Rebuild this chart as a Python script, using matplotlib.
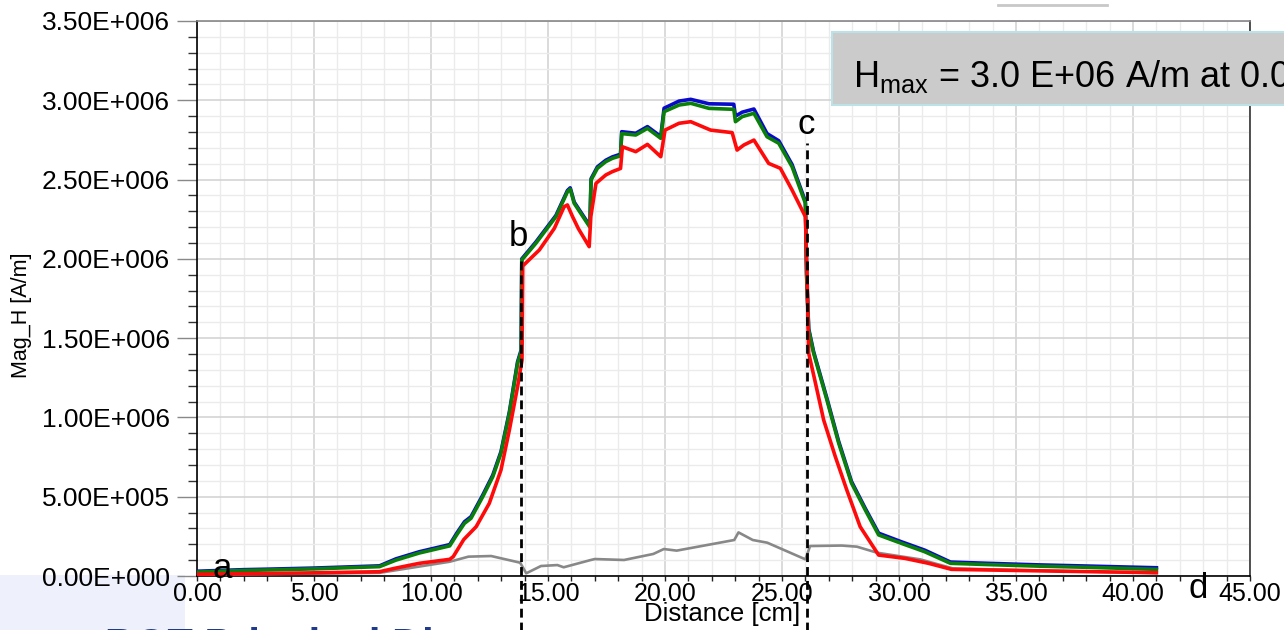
import numpy as np
import matplotlib
matplotlib.use('Agg')
import matplotlib.pyplot as plt
from matplotlib.patches import Rectangle
from matplotlib.lines import Line2D

plt.rcParams['font.family'] = ['Liberation Sans', 'DejaVu Sans']
plt.rcParams['mathtext.fontset'] = 'custom'
plt.rcParams['mathtext.rm'] = 'Liberation Sans'
plt.rcParams['mathtext.it'] = 'Liberation Sans'

# distance [cm] / Mag_H [A/m]
x_bg = [0.0, 1.0, 2.0, 3.0, 5.0, 7.8, 8.5, 9.5, 10.8, 11.1, 11.43, 11.71, 12.21, 12.64, 12.99,
        13.35, 13.70, 13.85, 13.88, 14.48, 15.34, 15.83, 15.95, 16.12, 16.79, 16.84, 17.11,
        17.47, 17.75, 18.1, 18.15, 18.75, 19.25, 19.82, 19.96, 20.6, 21.1, 21.88, 22.94,
        23.01, 23.3, 23.8, 24.36, 24.86, 25.43, 26.0, 26.05, 26.14, 26.35, 26.92, 27.42,
        27.97, 28.56, 29.13, 30.1, 31.1, 32.2, 33.8, 36.0, 38.0, 41.0]
blue = [30e3, 35e3, 40e3, 43e3, 50e3, 64e3, 108e3, 153e3, 198e3, 270e3, 342e3, 374e3, 510e3,
        636e3, 784e3, 1036e3, 1351e3, 1424e3, 2000e3, 2106e3, 2274e3, 2431e3, 2448e3, 2358e3,
        2208e3, 2505e3, 2580e3, 2622e3, 2643e3, 2660e3, 2802e3, 2792e3, 2834e3, 2772e3, 2950e3,
        2995e3, 3006e3, 2978e3, 2975e3, 2900e3, 2925e3, 2945e3, 2790e3, 2745e3, 2595e3, 2362e3,
        1910e3, 1560e3, 1415e3, 1120e3, 850e3, 596e3, 426e3, 270e3, 216e3, 163e3, 88e3, 80e3,
        70e3, 63e3, 52e3]
green = [25e3, 30e3, 35e3, 38e3, 45e3, 59e3, 100e3, 145e3, 190e3, 260e3, 332e3, 364e3, 500e3,
         626e3, 774e3, 1026e3, 1341e3, 1414e3, 1993e3, 2098e3, 2266e3, 2423e3, 2440e3, 2350e3,
         2200e3, 2497e3, 2571e3, 2613e3, 2634e3, 2650e3, 2790e3, 2781e3, 2823e3, 2760e3, 2928e3,
         2970e3, 2981e3, 2949e3, 2943e3, 2865e3, 2897e3, 2918e3, 2770e3, 2729e3, 2581e3, 2350e3,
         1900e3, 1551e3, 1406e3, 1110e3, 839e3, 586e3, 416e3, 259e3, 206e3, 153e3, 80e3, 72e3,
         62e3, 55e3, 42e3]

x_red = [0.0, 3.0, 5.0, 7.8, 8.5, 9.5, 10.8, 10.95, 11.4, 11.93, 12.49, 12.99, 13.35, 13.70,
         13.89, 13.92, 14.63, 15.27, 15.69, 15.83, 16.05, 16.3, 16.76, 16.83, 17.05, 17.47,
         17.75, 18.1, 18.18, 18.75, 19.25, 19.82, 20.0, 20.6, 21.1, 21.95, 22.87, 23.08, 23.37,
         23.8, 24.43, 24.93, 25.43, 26.0, 26.07, 26.14, 26.4, 26.78, 27.28, 27.77, 28.34, 29.13,
         30.26, 31.26, 32.24, 33.8, 37.0, 41.0]
red = [11e3, 16e3, 20e3, 27e3, 50e3, 80e3, 105e3, 122e3, 230e3, 311e3, 458e3, 668e3, 921e3,
       1194e3, 1362e3, 1955e3, 2056e3, 2192e3, 2329e3, 2340e3, 2266e3, 2190e3, 2077e3, 2266e3,
       2476e3, 2529e3, 2550e3, 2570e3, 2707e3, 2676e3, 2722e3, 2644e3, 2812e3, 2855e3, 2865e3,
       2812e3, 2796e3, 2686e3, 2718e3, 2749e3, 2602e3, 2571e3, 2434e3, 2266e3, 1900e3, 1406e3,
       1236e3, 984e3, 752e3, 542e3, 311e3, 132e3, 111e3, 80e3, 42e3, 38e3, 30e3, 21e3]

x_gray = [0.0, 5.0, 7.8, 10.8, 11.6, 12.57, 13.81, 14.07, 14.7, 15.4, 15.67, 16.83, 17.0, 18.25,
          19.5, 19.95, 20.5, 22.96, 23.14, 23.75, 24.37, 26.0, 26.2, 27.55, 28.2, 29.06, 30.9,
          32.3, 35.0, 41.0]
gray = [8e3, 15e3, 20e3, 90e3, 122e3, 126e3, 84e3, 17e3, 63e3, 69e3, 55e3, 101e3, 107e3, 101e3,
        139e3, 170e3, 160e3, 227e3, 275e3, 227e3, 210e3, 105e3, 189e3, 192e3, 185e3, 147e3,
        105e3, 48e3, 38e3, 18e3]

x_ticks = [0, 5, 10, 15, 20, 25, 30, 35, 40, 45]
x_labels = ['0.00', '5.00', '10.00', '15.00', '20.00', '25.00', '30.00', '35.00', '40.00', '45.00']
y_ticks = [0, 0.5e6, 1.0e6, 1.5e6, 2.0e6, 2.5e6, 3.0e6, 3.5e6]
y_labels = ['0.00E+000', '5.00E+005', '1.00E+006', '1.50E+006', '2.00E+006',
            '2.50E+006', '3.00E+006', '3.50E+006']

# marker positions a-d
marks = ['a', 'b', 'c', 'd']
mark_x = [1.06, 13.75, 26.05, 42.8]
mark_y = [-15e3, 2.08e6, 2.79e6, -140e3]
line_x = [13.85, 26.07]
line_top = [2.02e6, 2.73e6]

W, H = 1284, 630
fig = plt.figure(figsize=(W / 100, H / 100), dpi=100)
fig.patch.set_facecolor('white')

# slide background bits
fig.patches.append(Rectangle((0, 0), 185 / W, 55 / H, transform=fig.transFigure,
                             facecolor='#EEF1FC', edgecolor='none', zorder=-5))
fig.lines.append(Line2D([998 / W, 1107 / W], [1 - 4.5 / H, 1 - 4.5 / H], transform=fig.transFigure,
                        color='#C8C8C8', lw=2))

ax = fig.add_axes([197 / W, 54 / H, 1053 / W, 555 / H])
ax.set_xlim(0, 45)
ax.set_ylim(0, 3.5e6)

ax.plot(x_gray, gray, color='#888888', lw=1.9, zorder=3)
ax.plot(x_bg, blue, color='#0A0ACC', lw=2.6, zorder=4)
ax.plot(x_bg, green, color='#0A7F0A', lw=2.6, zorder=5)
ax.plot(x_red, red, color='#FF0A0A', lw=2.6, zorder=6)

for lx, lt in zip(line_x, line_top):
    ax.plot([lx, lx], [-0.4e6, lt], color='black', lw=2, dashes=(3.2, 1.8),
            clip_on=False, zorder=7)
for m, mx, my in zip(marks, mark_x, mark_y):
    ax.text(mx, my, m, fontsize=25, ha='center', va='baseline', clip_on=False, zorder=8)

ax.set_xticks(x_ticks)
ax.set_xticklabels(x_labels, fontsize=18)
ax.set_yticks(y_ticks)
ax.set_yticklabels(y_labels, fontsize=19)
ax.set_xticks(np.arange(0, 46, 1), minor=True)
ax.set_yticks(np.arange(0, 3.51e6, 1e5), minor=True)
ax.grid(which='minor', color='#EBEBEB', lw=1)
ax.grid(which='major', color='#D4D4D4', lw=1.2)
ax.set_axisbelow(True)

ax.tick_params(axis='y', which='major', length=14.4, width=1, color='#888888', pad=5)
ax.tick_params(axis='y', which='minor', length=6.5, width=1, color='#333333')
ax.tick_params(axis='x', which='both', length=3.6, width=1, color='#222222', pad=1)

ax.spines['left'].set_color('black')
ax.spines['bottom'].set_color('black')
ax.spines['top'].set_color('#888888')
ax.spines['right'].set_color('#333333')
for s in ax.spines.values():
    s.set_linewidth(1.2)

fig.text(722 / W, 1 - 614 / H, 'Distance [cm]', fontsize=18.5, ha='center', va='center')
fig.text(22 / W, 1 - 315 / H, 'Mag_H [A/m]', fontsize=15.5, rotation=90, ha='center', va='center')

# H max box, runs off the right edge
fig.patches.append(Rectangle((832 / W, 1 - 105 / H), 470 / W, 73 / H, transform=fig.transFigure,
                             facecolor='#CBCBCB', edgecolor='#BCE2E8', lw=1.5, zorder=9))
fig.text(853 / W, 1 - 87 / H, r'H$_{\rm max}$ = 3.0 E+06 A/m at 0.0', fontsize=26,
         ha='left', va='baseline', zorder=10)

fig.text(105 / W, 1 - 627 / H, 'BOT Principal Dir', fontsize=30, fontweight='bold',
         color='#1F3A8F', ha='left', va='top')

fig.savefig('out.png', dpi=100)
